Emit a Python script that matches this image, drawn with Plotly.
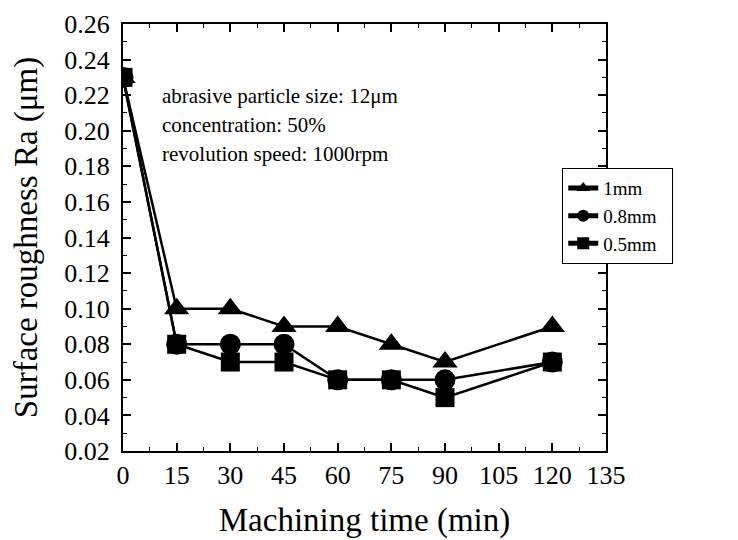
import plotly.graph_objects as go

time_min = [0, 15, 30, 45, 60, 75, 90, 120]
ra_1mm = [0.23, 0.10, 0.10, 0.09, 0.09, 0.08, 0.07, 0.09]
ra_08mm = [0.23, 0.08, 0.08, 0.08, 0.06, 0.06, 0.06, 0.07]
ra_05mm = [0.23, 0.08, 0.07, 0.07, 0.06, 0.06, 0.05, 0.07]

series = [
    ("1mm", ra_1mm, "triangle-up", 22),
    ("0.8mm", ra_08mm, "circle", 21),
    ("0.5mm", ra_05mm, "square", 19),
]

note_lines = [
    "abrasive particle size: 12μm",
    "concentration: 50%",
    "revolution speed: 1000rpm",
]

font_family = "Liberation Serif, Times New Roman, serif"
pad = "\u00a0\u00a0"

fig = go.Figure()
for name, vals, sym, sz in series:
    fig.add_trace(go.Scatter(
        x=time_min, y=vals, name=name + pad, mode="lines+markers",
        line=dict(color="black", width=2.5),
        marker=dict(symbol=sym, size=sz, color="black"),
    ))

axis_common = dict(
    showline=True, linecolor="black", linewidth=2, mirror="allticks",
    ticks="inside", ticklen=8, tickwidth=1.5, tickcolor="black",
    showgrid=False, zeroline=False, automargin=False,
    tickfont=dict(family=font_family, size=26, color="black"),
)

fig.update_xaxes(
    range=[0, 135], tick0=0, dtick=15,
    title=dict(text="Machining time (min)", font=dict(family=font_family, size=33, color="black"), standoff=19),
    minor=dict(ticks="inside", ticklen=4, dtick=7.5, tickcolor="black", tickwidth=1.2),
    **axis_common,
)
fig.update_yaxes(
    range=[0.02, 0.26], tick0=0.02, dtick=0.02, tickformat=".2f",
    title=dict(text="Surface roughness Ra (μm)", font=dict(family=font_family, size=33, color="black"), standoff=20),
    minor=dict(ticks="inside", ticklen=4, dtick=0.01, tickcolor="black", tickwidth=1.2),
    ticklabelstandoff=6,
    **axis_common,
)

note_y = [0.831, 0.763, 0.696]
for txt, yy in zip(note_lines, note_y):
    fig.add_annotation(
        xref="paper", yref="paper", x=0.077, y=yy, xanchor="left", yanchor="middle",
        text=txt, showarrow=False, align="left",
        font=dict(family=font_family, size=21, color="black"),
    )

fig.update_layout(
    width=730, height=532,
    margin=dict(l=115, r=132, t=16, b=89),
    paper_bgcolor="white", plot_bgcolor="white",
    showlegend=True,
    legend=dict(
        x=0.909, y=0.663, xanchor="left", yanchor="top",
        bordercolor="black", borderwidth=1.2, bgcolor="white",
        font=dict(family=font_family, size=19, color="black"),
        tracegroupgap=0, itemsizing="constant",
    ),
)

fig.write_html("out.html")
